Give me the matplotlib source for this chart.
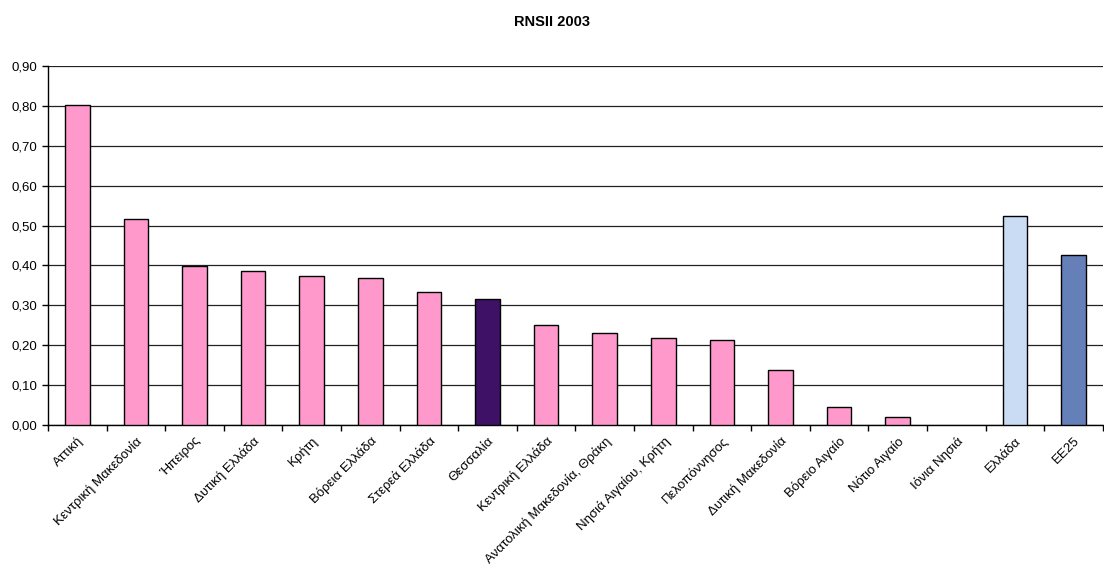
import numpy as np
import matplotlib
matplotlib.use("Agg")
import matplotlib.pyplot as plt
import matplotlib.ticker as ticker

plt.rcParams['font.family'] = ['Liberation Sans', 'DejaVu Sans']

# --- data ---
regions = [
    "Αττική", "Κεντρική Μακεδονία", "Ήπειρος", "Δυτική Ελλάδα", "Κρήτη",
    "Βόρεια Ελλάδα", "Στερεά Ελλάδα", "Θεσσαλία", "Κεντρική Ελλάδα",
    "Ανατολική Μακεδονία, Θράκη", "Νησιά Αιγαίου, Κρήτη", "Πελοπόννησος",
    "Δυτική Μακεδονία", "Βόρειο Αιγαίο", "Νότιο Αιγαίο", "Ιόνια Νησιά",
    "Ελλάδα", "ΕΕ25",
]
rnsii = [0.803, 0.516, 0.399, 0.386, 0.374, 0.369, 0.333, 0.316, 0.250,
         0.231, 0.217, 0.212, 0.138, 0.046, 0.020, 0.0, 0.525, 0.427]
y_ticks = [0.0, 0.1, 0.2, 0.3, 0.4, 0.5, 0.6, 0.7, 0.8, 0.9]

pink = "#FF99CC"
special = {"Θεσσαλία": "#3E1166", "Ελλάδα": "#CADBF4", "ΕΕ25": "#6580B8"}
colors = [special.get(r, pink) for r in regions]

fig = plt.figure(figsize=(11.04, 5.69), dpi=100)
ax = fig.add_axes([0.0435, 0.253, 0.9555, 0.631])

x = np.arange(len(regions))
# zero-height bars get no outline (nothing shows in the original)
edge_w = [1.0 if v > 0 else 0 for v in rnsii]
ax.bar(x, rnsii, width=0.42, color=colors, edgecolor="black", linewidth=edge_w, zorder=3)

ax.set_xlim(-0.5, len(regions) - 0.5)
ax.set_ylim(0, 0.9)
ax.set_yticks(y_ticks)
ax.yaxis.set_major_formatter(ticker.FuncFormatter(lambda v, p: f"{v:.2f}".replace(".", ",")))
ax.grid(True, axis="y", color="#222222", linewidth=0.9, zorder=0)

# category labels, ticks between categories
ax.set_xticks(x)
ax.set_xticklabels(regions, rotation=45, ha="right", rotation_mode="anchor", fontsize=9.5)
ax.tick_params(axis="x", length=0, pad=7)
ax.set_xticks(np.arange(len(regions) + 1) - 0.5, minor=True)
ax.tick_params(axis="x", which="minor", length=4, width=1, color="black", direction="out")
ax.tick_params(axis="y", length=4, width=1, labelsize=9.5, direction="out")

for side in ["top", "right"]:
    ax.spines[side].set_visible(False)
ax.spines["left"].set_linewidth(1)
ax.spines["bottom"].set_linewidth(1)

fig.text(0.5, 1 - 22 / 569, "RNSII 2003", ha="center", va="center",
         fontsize=10.5, fontweight="bold")

fig.savefig("out.png", dpi=100)
